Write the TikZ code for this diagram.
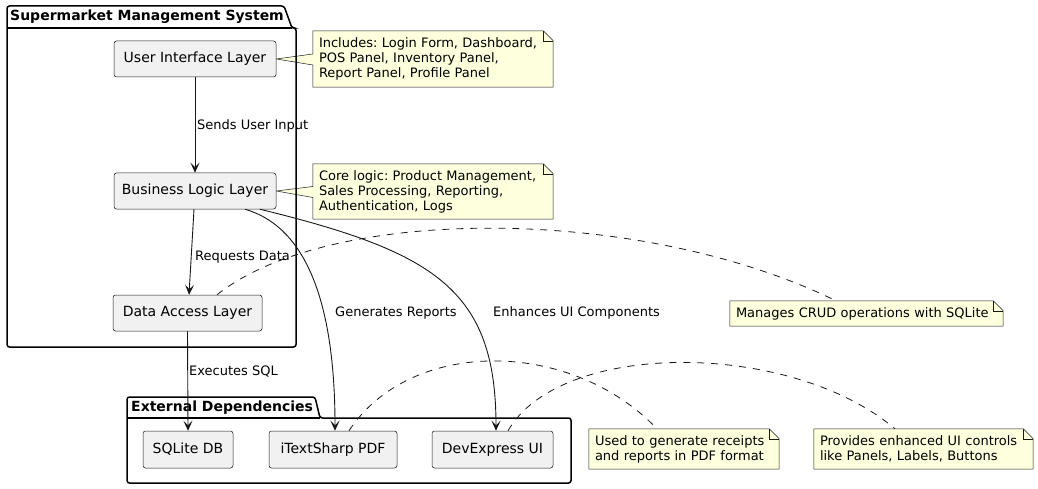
\documentclass[tikz,border=0pt]{standalone}
\usepackage{fontspec}
\setmainfont{DejaVu Sans}
\usetikzlibrary{arrows.meta,backgrounds}
\definecolor{boxfill}{HTML}{F1F1F1}
\definecolor{linec}{HTML}{181818}
\definecolor{notefill}{HTML}{FEFFDD}
\frenchspacing
\begin{document}
\begin{tikzpicture}[x=1pt,y=-1pt,
  comp/.style={draw=linec, line width=0.5pt, fill=boxfill, rounded corners=2.5pt,
    minimum height=36pt, inner sep=0pt, font=\fontsize{14}{16}\selectfont},
  notetext/.style={inner xsep=6pt, inner ysep=0pt, align=left,
    font=\fontsize{13}{15}\selectfont},
  notebg/.style={draw=linec, line width=0.5pt, fill=notefill},
  pkg/.style={draw=black, line width=1.5pt, rounded corners=2.5pt},
  pkgtitle/.style={anchor=west, inner sep=0pt, font=\fontsize{14}{16}\selectfont\bfseries},
  lbl/.style={anchor=west, inner sep=0pt, font=\fontsize{13}{15}\selectfont},
  arr/.style={draw=linec, line width=0.9pt, -{Stealth[length=10pt,width=9pt,inset=4.5pt]}},
  dashc/.style={draw=linec, line width=0.8pt, dash pattern=on 7pt off 7pt}]
\useasboundingbox (0,0) rectangle (1038,489);

% packages
\draw[pkg] (7,347) -- (7,6) -- (284,6) -- (292,28) -- (296,28) -- (296,347) -- cycle;
\draw[line width=1.5pt] (7,28) -- (292,28);
\node[pkgtitle] (p1) at (10,17) {Supermarket Management System};

\draw[pkg] (127,483) -- (127,397) -- (315,397) -- (320,418) -- (571,418) -- (571,483) -- cycle;
\draw[line width=1.5pt] (127,418) -- (320,418);
\node[pkgtitle] (p2) at (131,407.5) {External Dependencies};

% components
\node[comp, minimum width=162pt] (ui) at (195,59) {User Interface Layer};
\node[comp, minimum width=162pt] (bl) at (195,191) {Business Logic Layer};
\node[comp, minimum width=149pt] (da) at (187.5,313) {Data Access Layer};
\node[comp, minimum width=90pt, minimum height=37pt] (sq) at (188,449.5) {SQLite DB};
\node[comp, minimum width=128pt, minimum height=37pt] (it) at (333,449.5) {iTextSharp PDF};
\node[comp, minimum width=121pt, minimum height=37pt] (dx) at (492.5,449.5) {DevExpress UI};

% notes
\node[notetext, text width=228pt, minimum height=56pt] (n1) at (433,59)
  {Includes: Login Form, Dashboard,\\POS Panel, Inventory Panel,\\Report Panel, Profile Panel};
\node[notetext, text width=228pt, minimum height=55pt] (n2) at (433,191.5)
  {Core logic: Product Management,\\Sales Processing, Reporting,\\Authentication, Logs};
\node[notetext, text width=261pt, minimum height=25pt] (n3) at (866.5,313.5)
  {Manages CRUD operations with SQLite};
\node[notetext, text width=178pt, minimum height=40pt] (n4) at (684,449)
  {Used to generate receipts\\and reports in PDF format};
\node[notetext, text width=207pt, minimum height=40pt] (n5) at (923.5,449)
  {Provides enhanced UI controls\\like Panels, Labels, Buttons};

\begin{scope}[on background layer]
  \path[notebg] (n1.north west) -- ([xshift=-10pt]n1.north east) -- ([yshift=-10pt]n1.north east)
    -- (n1.south east) -- (n1.south west) -- ([yshift=-6pt]n1.west) -- (ui.east)
    -- ([yshift=5pt]n1.west) -- cycle;
  \path[notebg] (n2.north west) -- ([xshift=-10pt]n2.north east) -- ([yshift=-10pt]n2.north east)
    -- (n2.south east) -- (n2.south west) -- ([yshift=-6pt]n2.west) -- (bl.east)
    -- ([yshift=5pt]n2.west) -- cycle;
  \foreach \n in {n3,n4,n5}{
    \path[notebg] (\n.north west) -- ([xshift=-10pt]\n.north east) -- ([yshift=-10pt]\n.north east)
      -- (\n.south east) -- (\n.south west) -- cycle;
  }
\end{scope}
\foreach \n in {n1,n2,n3,n4,n5}{
  \draw[draw=linec, line width=0.5pt] ([xshift=-10pt]\n.north east) -- ([xshift=-10pt,yshift=-10pt]\n.north east)
    -- ([yshift=-10pt]\n.north east);
}

% dashed note links
\draw[dashc] ([xshift=29.5pt]da.north) .. controls (330,205) and (640,205) .. ([xshift=-30.5pt]n3.north);
\draw[dashc] ([xshift=16pt]it.north) .. controls (410,338) and (570,338) .. ([xshift=-27pt]n4.north);
\draw[dashc] ([xshift=15.5pt]dx.north) .. controls (560,340) and (790,340) .. ([xshift=-28.5pt]n5.north);

% arrows
\draw[arr] (ui.south) -- (bl.north);
\draw[arr] ([xshift=-1pt]bl.south) -- ([xshift=1.5pt]da.north);
\draw[arr] (da.south) -- (sq.north);
\draw[arr] ([xshift=50pt]bl.south) .. controls (300,225) and (335,290) .. ([xshift=2pt]it.north);
\draw[arr] ([xshift=65pt]bl.south) .. controls (435,252) and (496,290) .. ([xshift=3.5pt]dx.north);

% labels
\node[lbl] (l1) at (197,126) {Sends User Input};
\node[lbl] (l2) at (195,257.5) {Requests Data};
\node[lbl] (l3) at (189,372) {Executes SQL};
\node[lbl] (l4) at (335,313) {Generates Reports};
\node[lbl] (l5) at (493,313) {Enhances UI Components};
\end{tikzpicture}
\end{document}
